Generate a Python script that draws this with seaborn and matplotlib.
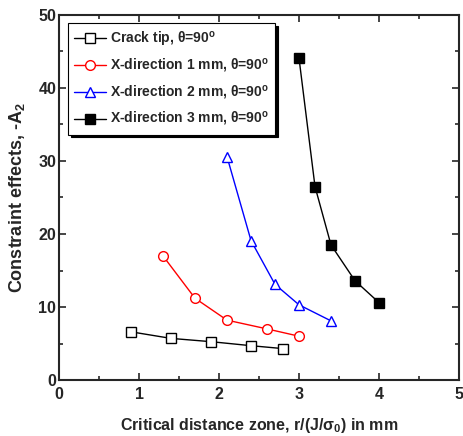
import matplotlib
matplotlib.use('Agg')
import matplotlib.pyplot as plt
import seaborn as sns
import pandas as pd

# values
crack_x = [0.9, 1.4, 1.9, 2.4, 2.8]
crack_y = [6.6, 5.7, 5.25, 4.7, 4.3]
x1_x = [1.3, 1.7, 2.1, 2.6, 3.0]
x1_y = [17.0, 11.2, 8.2, 7.0, 6.0]
x2_x = [2.1, 2.4, 2.7, 3.0, 3.4]
x2_y = [30.6, 19.1, 13.1, 10.3, 8.1]
x3_x = [3.0, 3.2, 3.4, 3.7, 4.0]
x3_y = [44.1, 26.5, 18.5, 13.6, 10.6]

labels = ['Crack tip, θ=90$^o$',
          'X-direction 1 mm, θ=90$^o$',
          'X-direction 2 mm, θ=90$^o$',
          'X-direction 3 mm, θ=90$^o$']

sns.set_style('ticks')
plt.rcParams['font.family'] = ['Liberation Sans', 'DejaVu Sans']
plt.rcParams['font.weight'] = 'bold'
plt.rcParams['mathtext.fontset'] = 'custom'
plt.rcParams['mathtext.rm'] = 'Liberation Sans:bold'
plt.rcParams['mathtext.it'] = 'Liberation Sans:bold'
plt.rcParams['mathtext.bf'] = 'Liberation Sans:bold'
plt.rcParams['mathtext.default'] = 'regular'

fig = plt.figure(figsize=(4.63, 4.36), dpi=100)
ax = fig.add_axes([59 / 463, 56 / 436, 400 / 463, 365 / 436])

series = [
    (crack_x, crack_y, 'black', 's', 'white'),
    (x1_x, x1_y, 'red', 'o', 'white'),
    (x2_x, x2_y, 'blue', '^', 'white'),
    (x3_x, x3_y, 'black', 's', 'black'),
]
for (xs, ys, col, mk, fc), lab in zip(series, labels):
    df = pd.DataFrame({'x': xs, 'y': ys})
    sns.lineplot(data=df, x='x', y='y', ax=ax, color=col, marker=mk,
                 markerfacecolor=fc, markeredgecolor=col, markersize=7,
                 markeredgewidth=1.0, linewidth=1.0, label=lab)

ax.set_xlim(0, 5)
ax.set_ylim(0, 50)
ax.set_xticks([0, 1, 2, 3, 4, 5])
ax.set_xticks([0.5, 1.5, 2.5, 3.5, 4.5], minor=True)
ax.set_yticks([0, 10, 20, 30, 40, 50])
ax.set_yticks([5, 15, 25, 35, 45], minor=True)
ax.tick_params(which='both', direction='in', top=True, right=True,
               width=1.2, labelsize=11.5)
ax.tick_params(which='major', length=5)
ax.tick_params(which='minor', length=3)
ax.tick_params(axis='x', pad=5)
ax.tick_params(axis='y', pad=2)
for lbl in ax.get_xticklabels() + ax.get_yticklabels():
    lbl.set_fontweight('bold')
for sp in ax.spines.values():
    sp.set_linewidth(1.5)

ax.set_xlabel(r'Critical distance zone, r/(J/$\sigma_0$) in mm',
              fontsize=11.5, fontweight='bold', labelpad=10)
ax.set_ylabel(r'Constraint effects, -A$_2$', fontsize=13, fontweight='bold',
              labelpad=8)

leg = ax.legend(loc='upper left', bbox_to_anchor=(0.015, 0.985), fontsize=10,
                frameon=True, fancybox=False, edgecolor='black',
                shadow={'color': 'black', 'alpha': 1},
                handlelength=2.3, handletextpad=0.3, labelspacing=0.62,
                borderpad=0.45, borderaxespad=0.2)
leg.get_frame().set_linewidth(0.8)

fig.savefig('out.png', dpi=100)
